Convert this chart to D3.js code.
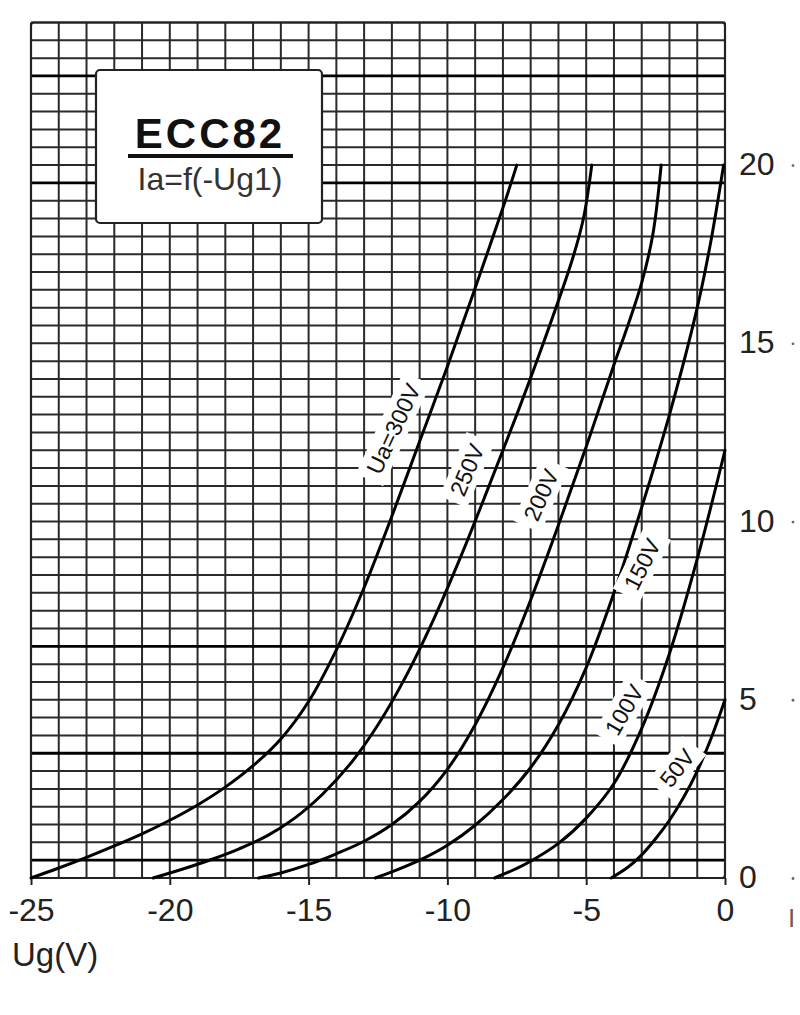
<!DOCTYPE html>
<html>
<head>
<meta charset="utf-8">
<script src="https://cdn.jsdelivr.net/npm/d3@7"></script>
<style>
  html, body { margin: 0; padding: 0; background: #fff; }
  svg { display: block; }
  text { font-family: "Liberation Sans", Arial, Helvetica, sans-serif; }
</style>
</head>
<body>
<svg id="chart" width="800" height="1015"></svg>
<script>
// ---------- data ----------
const xTicks = [-25, -20, -15, -10, -5, 0];
const yTicks = [0, 5, 10, 15, 20];
const xDomain = [-25, 0];
const yDomain = [0, 24];
const emphasisIa = [0.5, 3.5, 6.5, 19.5, 22.5];

const curve300 = [[-25,0],[-24,0.28],[-23,0.58],[-22,0.9],[-21,1.24],[-20,1.62],[-19,2.05],[-18,2.55],[-17,3.15],[-16,3.9],[-15,4.95],[-14,6.4],[-13,8.15],[-12,10.15],[-11,12.25],[-10,14.35],[-9,16.55],[-8,18.8],[-7.5,20]];
const curve250 = [[-20.6,0],[-19.5,0.26],[-18.5,0.52],[-17.5,0.82],[-16.5,1.18],[-15.5,1.68],[-14.5,2.35],[-13.5,3.2],[-12.5,4.3],[-11.5,5.65],[-10.5,7.25],[-9.5,9.05],[-8.5,11.0],[-7.5,13.0],[-6.5,15.1],[-5.5,17.35],[-5.1,18.5],[-4.8,20]];
const curve200 = [[-16.8,0],[-16,0.14],[-15,0.38],[-14,0.68],[-13,1.03],[-12,1.5],[-11,2.15],[-10,3.05],[-9,4.3],[-8,5.9],[-7,7.8],[-6,9.9],[-5,12.1],[-4,14.4],[-3.5,15.5],[-3,16.7],[-2.6,18.05],[-2.3,20]];
const curve150 = [[-12.6,0],[-12,0.17],[-11,0.5],[-10,0.92],[-9,1.48],[-8,2.2],[-7,3.1],[-6,4.3],[-5,5.9],[-4,8.0],[-3,10.4],[-2,13.0],[-1,16.0],[-0.5,17.9],[-0.05,20]];
const curve100 = [[-8.3,0],[-7.5,0.27],[-7,0.47],[-6,0.97],[-5,1.68],[-4,2.65],[-3,4.2],[-2,6.3],[-1,8.95],[0,12.0]];
const curve50  = [[-4.1,0],[-3.5,0.3],[-3,0.65],[-2.5,1.1],[-2,1.62],[-1.5,2.25],[-1,3.0],[-0.5,3.92],[0,5.0]];

const labelText  = ["Ua=300V", "250V", "200V", "150V", "100V", "50V"];
const labelUg    = [-11.95, -9.3, -6.63, -2.99, -3.64, -1.73];
const labelIa    = [12.6, 11.45, 10.75, 8.8, 4.72, 3.09];
const labelAngle = [-65, -67, -66, -63, -60, -52];

const titleMain = "ECC82";
const titleSub = "Ia=f(-Ug1)";
const xTitle = "Ug(V)";
const yTitle = "I";

// ---------- layout ----------
const L = 31, R = 725, T = 22.5, B = 878;
const svg = d3.select("#chart");
const x = d3.scaleLinear().domain(xDomain).range([L, R]);
const y = d3.scaleLinear().domain(yDomain).range([B, T]);

// grid
const grid = svg.append("g");
const vLines = d3.range(xDomain[0], xDomain[1] + 0.001, 1);
const hLines = d3.range(yDomain[0], yDomain[1] + 0.001, 0.5);
grid.selectAll("line.v").data(vLines).enter().append("line")
  .attr("x1", d => x(d)).attr("x2", d => x(d))
  .attr("y1", T).attr("y2", B)
  .attr("stroke", "#2a2a2a").attr("stroke-width", 2);
grid.selectAll("line.h").data(hLines).enter().append("line")
  .attr("x1", L).attr("x2", R)
  .attr("y1", d => y(d)).attr("y2", d => y(d))
  .attr("stroke", d => emphasisIa.includes(d) ? "#000" : "#2a2a2a")
  .attr("stroke-width", d => emphasisIa.includes(d) ? 2.8 : 2);

// border
svg.append("rect").attr("x", L).attr("y", T).attr("width", R - L).attr("height", B - T)
  .attr("rx", 3).attr("fill", "none").attr("stroke", "#222").attr("stroke-width", 2.2);

// bottom axis
const xAxis = svg.append("g").attr("transform", `translate(0,${B})`)
  .call(d3.axisBottom(x).tickValues(xTicks).tickSize(7).tickPadding(13).tickFormat(d3.format("d")));
xAxis.select(".domain").remove();
xAxis.selectAll(".tick line").attr("stroke", "#222").attr("stroke-width", 2);
xAxis.selectAll(".tick text").attr("font-size", 32).attr("fill", "#222")
  .attr("font-family", "Liberation Sans, Arial, sans-serif")
  .text(d => d < 0 ? "-" + Math.abs(d) : d);

// right axis
const yAxis = svg.append("g").attr("transform", `translate(${R},0)`)
  .call(d3.axisRight(y).tickValues(yTicks).tickSize(0).tickPadding(14).tickFormat(d3.format("d")));
yAxis.select(".domain").remove();
yAxis.selectAll(".tick text").attr("font-size", 32).attr("fill", "#222").attr("dy", "0.3em")
  .attr("font-family", "Liberation Sans, Arial, sans-serif");
yAxis.selectAll(".tick").append("circle").attr("cx", 68).attr("cy", 0).attr("r", 1.4).attr("fill", "#666");

// axis titles
svg.append("text").attr("x", 12).attr("y", 966).attr("font-size", 33).attr("fill", "#222").text(xTitle);
svg.append("text").attr("x", 788).attr("y", 927).attr("font-size", 26).attr("fill", "#7a5a50").text(yTitle);

// curves
const line = d3.line().x(d => x(d[0])).y(d => y(d[1])).curve(d3.curveCatmullRom.alpha(0.5));
const curves = [curve300, curve250, curve200, curve150, curve100, curve50];
svg.append("g").selectAll("path").data(curves).enter().append("path")
  .attr("d", line).attr("fill", "none").attr("stroke", "#000")
  .attr("stroke-width", 3).attr("stroke-linecap", "round");

// curve labels
const lbl = svg.append("g").selectAll("g").data(labelText).enter().append("g")
  .attr("transform", (d, i) => `translate(${x(labelUg[i])},${y(labelIa[i])}) rotate(${labelAngle[i]})`);
lbl.each(function(d) {
  const g = d3.select(this);
  const t = g.append("text").attr("text-anchor", "middle").attr("dy", "0.36em")
    .attr("font-size", 23).attr("fill", "#111").text(d);
  const w = t.node().getComputedTextLength();
  g.insert("rect", "text").attr("x", -w / 2 - 8).attr("y", -15).attr("width", w + 16).attr("height", 30)
    .attr("fill", "#fff");
});

// title box
const tb = svg.append("g");
tb.append("rect").attr("x", 96).attr("y", 70).attr("width", 226).attr("height", 153).attr("rx", 4)
  .attr("fill", "#fff").attr("stroke", "#222").attr("stroke-width", 2.2);
tb.append("text").attr("x", 210).attr("y", 148).attr("text-anchor", "middle")
  .attr("font-size", 42).attr("font-weight", "bold").attr("letter-spacing", 3).attr("fill", "#111").text(titleMain);
tb.append("line").attr("x1", 128).attr("x2", 293).attr("y1", 156).attr("y2", 156)
  .attr("stroke", "#111").attr("stroke-width", 4);
tb.append("text").attr("x", 210).attr("y", 190).attr("text-anchor", "middle")
  .attr("font-size", 32).attr("fill", "#333").text(titleSub);
</script>
</body>
</html>
